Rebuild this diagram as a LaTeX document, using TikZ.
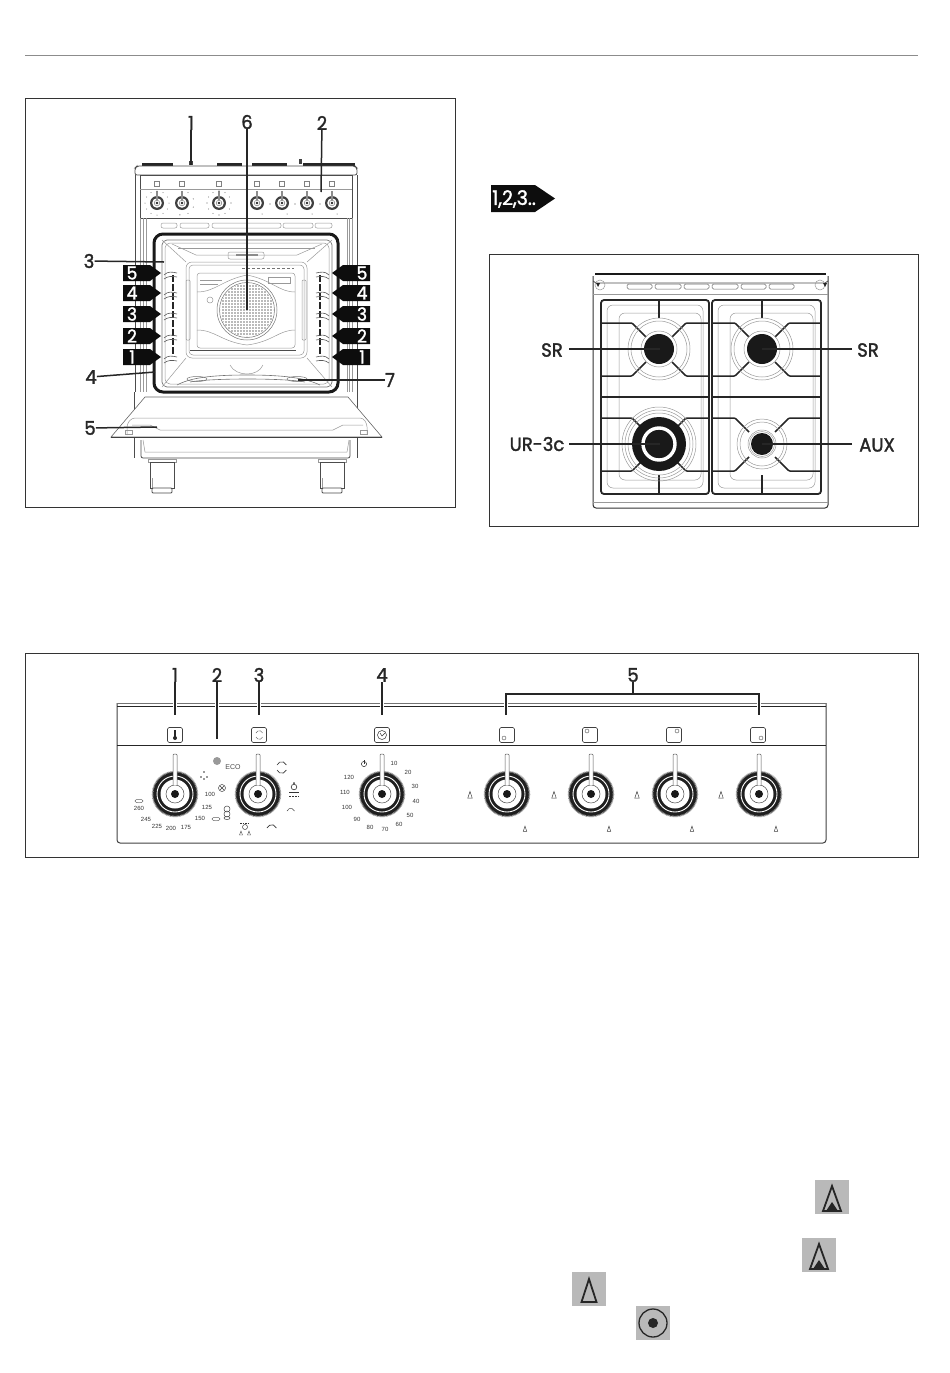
\documentclass[tikz,border=0pt]{standalone}
\usepackage{fontspec}
\setmainfont{Poppins}
\newfontfamily\calloutfont[FakeBold=1.6, FakeStretch=0.95]{Poppins}
\newfontfamily\dialfont{Liberation Sans}
\usetikzlibrary{arrows.meta,positioning,calc}

\definecolor{iconbg}{HTML}{B9B9B9}
\tikzset{
    callout/.style={font=\calloutfont\fontsize{19}{19}\selectfont, text=black!85, inner sep=0pt},
    leader/.style={line width=1.5pt, black!85},
    halo/.style={preaction={draw=white, line width=4pt}},
    frame/.style={line width=0.9pt, black!80},
    thinline/.style={line width=0.5pt, black!40},
    outline/.style={line width=0.8pt, black!70},
    grate/.style={line width=1.5pt, black!85, rounded corners=1pt},
    tagnum/.style={font=\calloutfont\fontsize{18}{18}\selectfont, text=white, inner sep=0pt},
    dialnum/.style={font=\dialfont\fontsize{6}{6}\selectfont, text=black!80, inner sep=0pt},
    dialknob/.pic={
        \fill[black!88] (0,0) circle (22.5);
        \draw[black!40, line width=1.6pt, dash pattern=on 0.7pt off 0.7pt] (0,0) circle (22.5);
        \draw[white, line width=0.9pt] (0,0) circle (18);
        \fill[white] (0,0) circle (14.5);
        \draw[line width=0.5pt, black!70] (0,0) circle (9);
        \fill[black!90] (0,0) circle (4);
        \filldraw[fill=white, draw=black!65, line width=0.5pt] (-2,-9) -- (-2,-39) -- (-1,-40) -- (1,-40) -- (2,-39) -- (2,-9);
    },
    minidial/.pic={
        \fill[black!75] (0,0) circle (7);
        \fill[white] (0,0) circle (4.8);
        \draw[line width=0.4pt, black!60] (0,0) circle (2.8);
        \fill[black!85] (0,0) circle (1.3);
        \draw[line width=1.3pt, black!45] (0,-3) -- (0,-12.5);
    },
    flamesmall/.pic={
        \draw[line width=0.5pt, black!75] (0,-3.5) -- (-2.2,3) -- (2.2,3) -- cycle;
    },
    flameicon/.pic={
        \fill[iconbg] (-17,-17) rectangle (17,17);
        \draw[line width=1.8pt, black!85, miter limit=8] (0,-11) -- (-9,14) -- (9,14) -- cycle;
        \fill[black!85] (-6,14) -- (0,5) -- (6,14) -- cycle;
    },
    flameplain/.pic={
        \fill[iconbg] (-17,-17) rectangle (17,17);
        \draw[line width=1.8pt, black!85, miter limit=8] (0,-10) -- (-7.5,13) -- (7.5,13) -- cycle;
    },
    ringicon/.pic={
        \fill[iconbg] (-17,-17) rectangle (17,17);
        \draw[line width=1.3pt, black!85] (0,0) circle (14);
        \fill[black!85] (0,0) circle (5);
    },
    symbolbox/.pic={
        \draw[line width=0.6pt, black!75, rounded corners=1.5pt] (-7.5,-7.5) rectangle (7.5,7.5);
    }
}

\begin{document}
\begin{tikzpicture}[x=1pt, y=-1pt]
\useasboundingbox (0,0) rectangle (950,1373);

% Top rule
\draw[line width=0.8pt, black!45] (25,55) -- (918,55);

% Frames
\draw[frame] (25,98) rectangle (455,507);
\draw[frame] (489,254) rectangle (918,526);
\draw[frame] (25,653) rectangle (918,857);

% ---- Oven: body
\foreach \x/\w in {142/31, 217/25, 252/35, 303/52}
    \fill[black!85] (\x,163) rectangle ++(\w,3);
\fill[black!75] (189,161) rectangle (193,165);
\fill[black!75] (299,159) rectangle (302,164);
\draw[outline, rounded corners=2pt] (135,175) -- (135,168) -- (137,166) -- (355,166) -- (357,168) -- (357,175) -- cycle;
\draw[outline] (135,175) -- (135,392);
\draw[outline] (357,175) -- (357,392);
\draw[outline] (140,175) rectangle (352,218);
\draw[thinline] (140,189) -- (352,189);
\foreach \x in {140,143,146,347,349,352}
    \draw[thinline] (\x,218) -- (\x,392);
\foreach \a/\b in {161/177, 180/209, 212/281, 283/313, 315/332}
    \draw[thinline, rounded corners=2pt] (\a,223) rectangle (\b,228);

% Mini panel
\foreach \x in {157,182,219,257,282,307,332} {
    \draw[line width=0.35pt, black!50] (\x-2.5,181.5) rectangle (\x+2.5,186.5);
    \pic at (\x,203) {minidial};
}
\foreach \x in {270,295,320}
    \fill[black!70] (\x,204) circle (0.7);
\foreach \x in {262,287,312,337}
    \fill[black!70] (\x,214) circle (0.5);
\foreach \a in {0,30,...,330} {
    \fill[black!60] ($(219,203)+(\a:12)$) circle (0.6);
    \fill[black!60] ($(157,203)+(\a:12)$) circle (0.5);
}
\foreach \a in {-60,-20,20,60,100}
    \fill[black!60] ($(182,203)+(\a:12)$) circle (0.6);

% Oven cavity
\draw[line width=3pt, black!90, rounded corners=9pt] (154,234) rectangle (338,392);
\draw[line width=0.7pt, black!55, rounded corners=5pt] (162,240) rectangle (332,387);
\draw[thinline, rounded corners=5pt] (165,243) rectangle (329,384);
\draw[thinline, rounded corners=6pt] (186,262) rectangle (307,358);
\draw[thinline, rounded corners=4pt] (189,265) rectangle (304,355);
\draw[thinline, rounded corners=3pt] (197,273) rectangle (295,348);
\foreach \a/\b/\c/\d in {162/240/186/262, 332/240/307/262, 162/387/186/358, 332/387/307/358}
    \draw[thinline] (\a,\b) -- (\c,\d);
\draw[thinline] (172,244) -- (196,255) -- (297,255) -- (322,244);
\draw[thinline] (178,248) -- (315,248);
\draw[thinline, rounded corners=2pt] (228,252) rectangle (264,259);
\fill[black!45] (236,254) rectangle (258,256);
\draw[thinline] (197,292) .. controls (215,292) and (222,280) .. (247,275) .. controls (272,280) and (279,292) .. (295,292);
\draw[thinline] (197,330) .. controls (215,330) and (222,342) .. (247,345) .. controls (272,342) and (279,330) .. (295,330);
\draw[thinline] (200,280) -- (222,280);
\draw[thinline] (200,284) -- (218,284);
\draw[thinline] (268,277) rectangle (290,283);
\draw[thinline] (210,300) circle (3);
\draw[thinline, rounded corners=1pt] (186,280) rectangle (190,340);
\draw[thinline, rounded corners=1pt] (302,280) rectangle (306,340);

% Fan
\draw[line width=0.5pt, black!55] (247,310) circle (30);
\draw[line width=0.5pt, black!55] (247,310) circle (27.5);
\begin{scope}
\clip (247,310) circle (26.5);
\foreach \i in {-27,-24,...,27}
    \foreach \j in {-27,-24,...,27}
        \fill[black!55] (247+\i,310+\j) circle (0.9);
\end{scope}
\draw[line width=0.6pt, black!55, densely dashed] (242,268) -- (294,268);
\draw[line width=0.8pt, black!70] (190,350) -- (296,350);

% Floor of the cavity
\draw[thinline] (230,365) .. controls (236,377) and (258,377) .. (263,365);
\draw[line width=0.6pt, black!55] (177,385) .. controls (190,378) and (210,375) .. (247,375) .. controls (285,375) and (305,378) .. (320,385);
\draw[line width=0.6pt, black!55] (190,382) .. controls (210,378) and (285,378) .. (305,382);
\draw[line width=0.5pt, black!55] (197,379) ellipse (10 and 2.5);
\draw[line width=0.5pt, black!55] (297,379) ellipse (10 and 2.5);

% Shelf rails
\draw[line width=1.4pt, black!85, dash pattern=on 7pt off 2pt] (173,275) -- (173,355);
\draw[line width=1.4pt, black!85, dash pattern=on 7pt off 2pt] (320,275) -- (320,355);
\foreach \y in {273,293,314,336,357} {
    \draw[line width=0.6pt, black!65] (164,\y+2) .. controls (168,\y-2) and (172,\y-1) .. (177,\y);
    \draw[line width=0.6pt, black!65] (164,\y+6) .. controls (168,\y+3) and (172,\y+3) .. (177,\y+4);
    \draw[line width=0.6pt, black!65] (316,\y) .. controls (321,\y-1) and (325,\y-2) .. (329,\y+2);
    \draw[line width=0.6pt, black!65] (316,\y+4) .. controls (321,\y+3) and (325,\y+3) .. (329,\y+6);
}

% Shelf tags
\foreach \n/\y in {5/273, 4/293, 3/314, 2/336, 1/357} {
    \fill[black!95] (123,\y-8) -- (150,\y-8) -- (161,\y) -- (150,\y+8) -- (123,\y+8) -- cycle;
    \node[tagnum] (left\n) at (132,\y) {\n};
    \fill[black!95] (370,\y-8) -- (343,\y-8) -- (332,\y) -- (343,\y+8) -- (370,\y+8) -- cycle;
    \node[tagnum] (right\n) at (362,\y) {\n};
}

% Door and base
\draw[outline] (134,392) -- (134,458);
\draw[outline] (357,392) -- (357,458);
\draw[outline, rounded corners=2pt] (141,440) -- (141,458) -- (350,458) -- (350,440);
\draw[thinline] (143,440) -- (145,452) -- (347,452) -- (349,440);
\foreach \x in {150,320} {
    \draw[thinline] (\x-2,459) rectangle (\x+26,462);
    \draw[outline, fill=white] (\x,462) rectangle (\x+24,488);
    \draw[thinline] (\x+2,478) -- (\x+2,488);
    \draw[outline, fill=white, rounded corners=1pt] (\x+2,488) rectangle (\x+22,493);
}
\draw[line width=0.6pt, black!60, fill=white] (145,397) -- (348,397) -- (382,437) -- (111,437) -- cycle;
\draw[line width=1pt, black!75] (111,437) -- (382,437);
\draw[thinline, rounded corners=3pt] (127,435) -- (127,424) -- (132,418) -- (363,418) -- (367,424) -- (367,435);
\draw[thinline] (132,425) -- (150,425) -- (160,430) -- (333,430) -- (343,425) -- (363,425);
\draw[thinline] (125,430) rectangle (132,434);
\draw[thinline] (360,430) rectangle (367,434);

% Oven callouts
\node[callout] (num1) at (191,123) {1};
\node[callout] (num6) at (247,122) {6};
\node[callout] (num2) at (322,123) {2};
\node[callout] (num3) at (89,261) {3};
\node[callout] (num4) at (91,377) {4};
\node[callout] (num5) at (90,428) {5};
\node[callout] (num7) at (390,380) {7};
\coordinate (end1) at (191,165);
\coordinate (end6) at (247,310);
\coordinate (end2) at (321,192);
\coordinate (end3) at (164,262);
\coordinate (end4) at (155,372);
\coordinate (end5) at (157,427);
\coordinate (end7) at (298,380);
\draw[leader] (num1) -- (end1);
\draw[leader] (num6) -- (end6);
\draw[leader] (num2) -- (end2);
\draw[leader] (num3) -- (end3);
\draw[leader] (num4) -- (end4);
\draw[leader] (num5) -- (end5);
\draw[leader] (num7) -- (end7);

% Badge
\fill[black!95] (491,185) -- (535,185) -- (555,198.5) -- (535,212) -- (491,212) -- cycle;
\node[font=\calloutfont\fontsize{20}{20}\selectfont, text=white, inner sep=0pt, anchor=west] (badge) at (492,199) {1,2,3..};

% ---- Hob: body
\draw[line width=1pt, black!80, rounded corners=3pt] (593,276) -- (593,508) -- (828,508) -- (828,276);
\draw[line width=1.8pt, black!90] (595,274) -- (826,274);
\draw[outline] (593,281) -- (596,283) -- (825,283) -- (828,281);
\draw[thinline] (593,294) -- (828,294);
\draw[thinline] (593,502) -- (828,502);
\foreach \a/\b in {627/652, 655/681, 684/709, 712/738, 741/766, 769/794}
    \draw[line width=0.5pt, black!60, rounded corners=1.5pt] (\a,284) rectangle (\b,289);
\draw[thinline] (600,285) circle (5);
\draw[thinline] (820,285) circle (5);
\fill[black!85] (596,283) -- (600,283) -- (598,287) -- cycle;
\fill[black!85] (823,283) -- (827,283) -- (825,287) -- cycle;

% Drip trays and grates
\foreach \a/\b in {601/709, 712/821} {
    \draw[thinline, rounded corners=6pt] (\a+6,305) rectangle (\b-6,488);
    \draw[thinline, rounded corners=6pt] (\a+18,313) rectangle (\b-8,480);
    \draw[line width=1.8pt, black!85, rounded corners=3pt] (\a,300) rectangle (\b,494);
    \draw[grate] (\a,397) -- (\b,397);
}
\foreach \bx/\by/\lx/\rx in {659/349/601/709, 762/349/712/821, 659/444/601/709, 762/444/712/821} {
    \draw[grate] (\lx,\by-26) -- (\bx-27,\by-26) -- (\bx-13,\by-12);
    \draw[grate] (\rx,\by-26) -- (\bx+27,\by-26) -- (\bx+13,\by-12);
    \draw[grate] (\lx,\by+27) -- (\bx-27,\by+27) -- (\bx-13,\by+13);
    \draw[grate] (\rx,\by+27) -- (\bx+27,\by+27) -- (\bx+13,\by+13);
}
\foreach \bx in {659,762} {
    \draw[grate] (\bx,300) -- (\bx,318);
    \draw[grate] (\bx,475) -- (\bx,494);
}

% Burners
\foreach \bx in {659,762} {
    \draw[thinline] (\bx,349) circle (31);
    \draw[thinline] (\bx,349) circle (28);
    \draw[thinline] (\bx,349) circle (18);
    \fill[black!90] (\bx,349) circle (15);
}
\foreach \r in {37,34,31}
    \draw[thinline] (659,444) circle (\r);
\fill[black!90] (659,444) circle (27);
\draw[white, line width=3.4pt] (659,444) circle (16);
\foreach \r in {25,22,14,12.5}
    \draw[thinline] (762,444) circle (\r);
\fill[black!90] (762,444) circle (11);

% Hob callouts
\node[callout] (sr1) at (552,350) {SR};
\node[callout] (sr2) at (868,350) {SR};
\node[callout] (ur) at (537,444) {UR-3c};
\node[callout] (aux) at (877,445) {AUX};
\coordinate (b1) at (660,349);
\coordinate (b2) at (762,349);
\coordinate (b3) at (660,444);
\coordinate (b4) at (762,444);
\draw[leader] (569,349) -- (b1);
\draw[leader] (852,349) -- (b2);
\draw[leader] (569,444) -- (b3);
\draw[leader] (852,444) -- (b4);

% ---- Control panel
\draw[line width=1pt, black!75, rounded corners=3pt] (117,703) -- (117,843) -- (826,843) -- (826,703);
\draw[line width=1pt, black!55] (117,703) -- (826,703);
\draw[line width=0.7pt, black!85] (117,706) -- (826,706);
\draw[line width=0.8pt, black!85] (117,745) -- (826,745);

% Symbol boxes
\foreach \x in {175,259,382,507,590,674,758}
    \pic at (\x,735) {symbolbox};
\fill[black!85] (174,730) rectangle (176,737);
\fill[black!85] (175,738) circle (2);
\draw[line width=0.4pt, black!70] (256,733) arc (200:340:3.5);
\draw[line width=0.4pt, black!70] (256,737) arc (160:20:3.5);
\draw[line width=0.5pt, black!80] (382,735) circle (4.5);
\draw[line width=0.5pt, black!80] (380,733) -- (382,736) -- (385,733);
\draw[line width=0.4pt, black!70] (504,738) circle (2);
\draw[line width=0.4pt, black!70] (587,731) circle (2);
\draw[line width=0.4pt, black!70] (677,731) circle (2);
\draw[line width=0.4pt, black!70] (761,738) circle (2);

% Knobs
\foreach \x in {175,258,382,507,591,675,759}
    \pic at (\x,794) {dialknob};
\foreach \x in {470,554,637,721}
    \pic at (\x,795) {flamesmall};
\foreach \x in {525,609,692,776}
    \pic[scale=0.8] at (\x,829) {flamesmall};

% Timer scale
\foreach \v/\a/\b in {10/394/763, 20/408/772, 30/415/786, 40/416/801, 50/410/815, 60/399/824, 70/385/829, 80/370/827, 90/357/819, 100/347/807, 110/345/792, 120/349/777}
    \node[dialnum] (timer\v) at (\a,\b) {\v};
\draw[line width=0.5pt, black!80] (364,764) circle (2.6);
\draw[line width=0.5pt, black!80] (364,760) -- (364,764);

% Temperature scale
\foreach \v/\a/\b in {260/139/808, 245/146/819, 225/157/826, 200/171/828, 175/186/827, 150/200/818, 125/207/807, 100/210/794}
    \node[dialnum] (temp\v) at (\a,\b) {\v};
\draw[line width=0.4pt, black!70] (139,801) ellipse (4 and 1.8);
\draw[line width=0.4pt, black!70] (216,819) ellipse (4 and 1.8);

% Function symbols
\fill[black!40] (217,761) circle (4);
\node[font=\dialfont\fontsize{7}{7}\selectfont, text=black!70, inner sep=0pt] (eco) at (233,767) {ECO};
\foreach \a/\b in {204/772, 201/777, 207/777, 204/779}
    \fill[black!80] (\a,\b) circle (0.9);
\draw[line width=0.5pt, black!75] (222,788) circle (3.5);
\draw[line width=0.4pt, black!75] (220,786) -- (224,790);
\draw[line width=0.4pt, black!75] (224,786) -- (220,790);
\draw[line width=0.5pt, black!75] (227,809) circle (3);
\draw[line width=0.5pt, black!75] (227,814) circle (3);
\draw[line width=0.5pt, black!75] (227,818) ellipse (3 and 1.5);
\draw[line width=0.6pt, black!80] (277,765) arc (200:340:5);
\draw[line width=0.6pt, black!80] (277,770) arc (160:20:5);
\draw[line width=0.6pt, black!80] (294,787) circle (2.8);
\fill[black!80] (294,783) circle (1);
\draw[line width=0.6pt, black!80] (289,792) -- (299,792);
\draw[line width=1pt, black!80, dash pattern=on 1.5pt off 1.5pt] (289,796) -- (299,796);
\draw[line width=0.5pt, black!75] (287,811) arc (200:340:4);
\draw[line width=0.7pt, black!80] (267,828) arc (200:340:5);
\draw[line width=0.5pt, black!75] (245,827) circle (2.5);
\draw[line width=0.7pt, black!80, dash pattern=on 1.5pt off 1pt] (240,823) -- (250,823);
\foreach \x in {241,249}
    \draw[line width=0.4pt, black!75] (\x,831) -- (\x-1.5,835) -- (\x+1.5,835) -- cycle;

% Panel callouts
\node[callout] (pan1) at (175,675) {1};
\node[callout] (pan2) at (217,675) {2};
\node[callout] (pan3) at (259,675) {3};
\node[callout] (pan4) at (382,675) {4};
\node[callout] (pan5) at (633,675) {5};
\coordinate (tip1) at (175,715);
\coordinate (tip2) at (217,739);
\coordinate (tip3) at (259,715);
\coordinate (tip4) at (382,715);
\coordinate (tipa) at (506,715);
\coordinate (tipb) at (759,715);
\coordinate (brace5) at (633,694);
\draw[leader, halo] (pan1) -- (tip1);
\draw[leader, halo] (pan2) -- (tip2);
\draw[leader, halo] (pan3) -- (tip3);
\draw[leader, halo] (pan4) -- (tip4);
\draw[leader, halo] (tipa) |- (brace5) -| (tipb);
\draw[leader] (pan5) -- (brace5);

% Text symbols
\pic (iconA) at (832,1197) {flameicon};
\pic (iconB) at (819,1255) {flameicon};
\pic (iconC) at (589,1289) {flameplain};
\pic (iconD) at (653,1323) {ringicon};

\end{tikzpicture}
\end{document}
